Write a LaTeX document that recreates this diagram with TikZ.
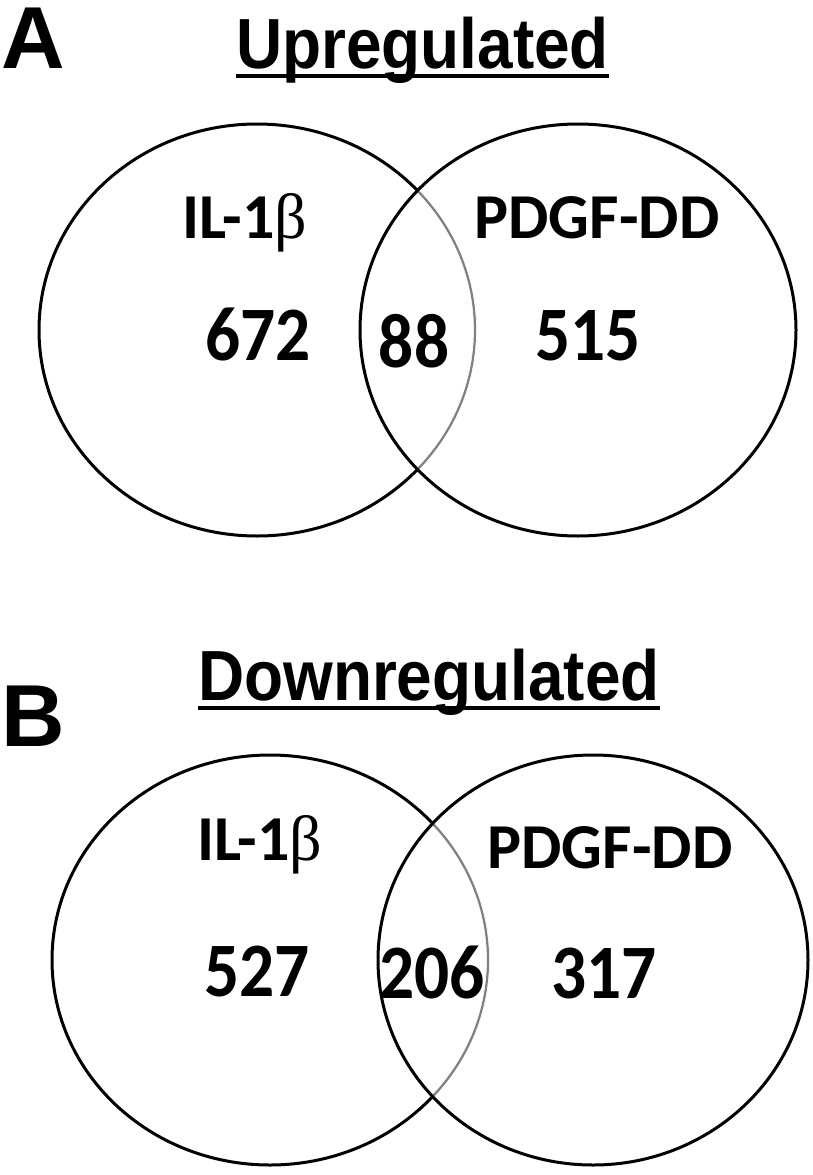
\documentclass[tikz,border=0pt]{standalone}
\usepackage{fontspec}
\setmainfont{Liberation Sans}
\newfontfamily\calib{Carlito}
\newfontfamily\symb{Liberation Serif}
\newcommand{\narrowtxt}[1]{\scalebox{0.9}[1]{#1}}
\newcommand{\numtxt}[1]{\scalebox{0.9}[1]{#1}}
\begin{document}
\begin{tikzpicture}[x=1pt,y=-1pt,
  venn/.style={line width=3pt, draw=black},
  inner/.style={line width=2.2pt, draw=black!50},
  panel/.style={font=\fontsize{88}{88}\selectfont\bfseries, inner sep=0, anchor=base west},
  title/.style={font=\fontsize{71}{71}\selectfont\bfseries, inner sep=0, anchor=base west},
  lab/.style={font=\calib\fontsize{64}{64}\selectfont\bfseries, inner sep=0, anchor=base},
  num/.style={font=\calib\fontsize{77}{77}\selectfont\bfseries, inner sep=0, anchor=base},
  uline/.style={line width=4.5pt}]
\useasboundingbox[fill=white] (0,0) rectangle (812,1175);

% ---------- Panel A ----------
\draw[venn] (257,330) ellipse [x radius=218, y radius=206];
\begin{scope}
  \clip (578,330) ellipse [x radius=218, y radius=206];
  \draw[white, line width=4pt] (257,330) ellipse [x radius=218, y radius=206];
  \draw[inner] (257,330) ellipse [x radius=218, y radius=206];
\end{scope}
\draw[venn] (578,330) ellipse [x radius=218, y radius=206];

\node[panel] (pA) at (1,68) {A};
\node[title] (tUp) at (236,68) {\narrowtxt{Upregulated}};
\draw[uline] ([yshift=-8pt]tUp.base west) -- ([yshift=-8pt]tUp.base east);

\node[lab] (ilA) at (245,238) {IL-1{\symb\mdseries β}};
\node[lab] (pdA) at (597,238) {PDGF-DD};
\node[num] (n672) at (258,360) {\numtxt{672}};
\node[num] (n88) at (414,367) {\numtxt{88}};
\node[num] (n515) at (588,360) {\numtxt{515}};

% ---------- Panel B ----------
\draw[venn] (270,960) ellipse [x radius=218, y radius=205];
\begin{scope}
  \clip (593,960) ellipse [x radius=215, y radius=205];
  \draw[white, line width=4pt] (270,960) ellipse [x radius=218, y radius=205];
  \draw[inner] (270,960) ellipse [x radius=218, y radius=205];
\end{scope}
\draw[venn] (593,960) ellipse [x radius=215, y radius=205];

\node[panel] (pB) at (1,746) {B};
\node[title] (tDown) at (198,700) {\narrowtxt{Downregulated}};
\draw[uline] ([yshift=-8pt]tDown.base west) -- ([yshift=-8pt]tDown.base east);

\node[lab] (ilB) at (260,860) {IL-1{\symb\mdseries β}};
\node[lab] (pdB) at (610,868) {PDGF-DD};
\node[num] (n527) at (257,996) {\numtxt{527}};
\node[num] (n206) at (432,998) {\numtxt{206}};
\node[num] (n317) at (604,998) {\numtxt{317}};
\end{tikzpicture}
\end{document}
